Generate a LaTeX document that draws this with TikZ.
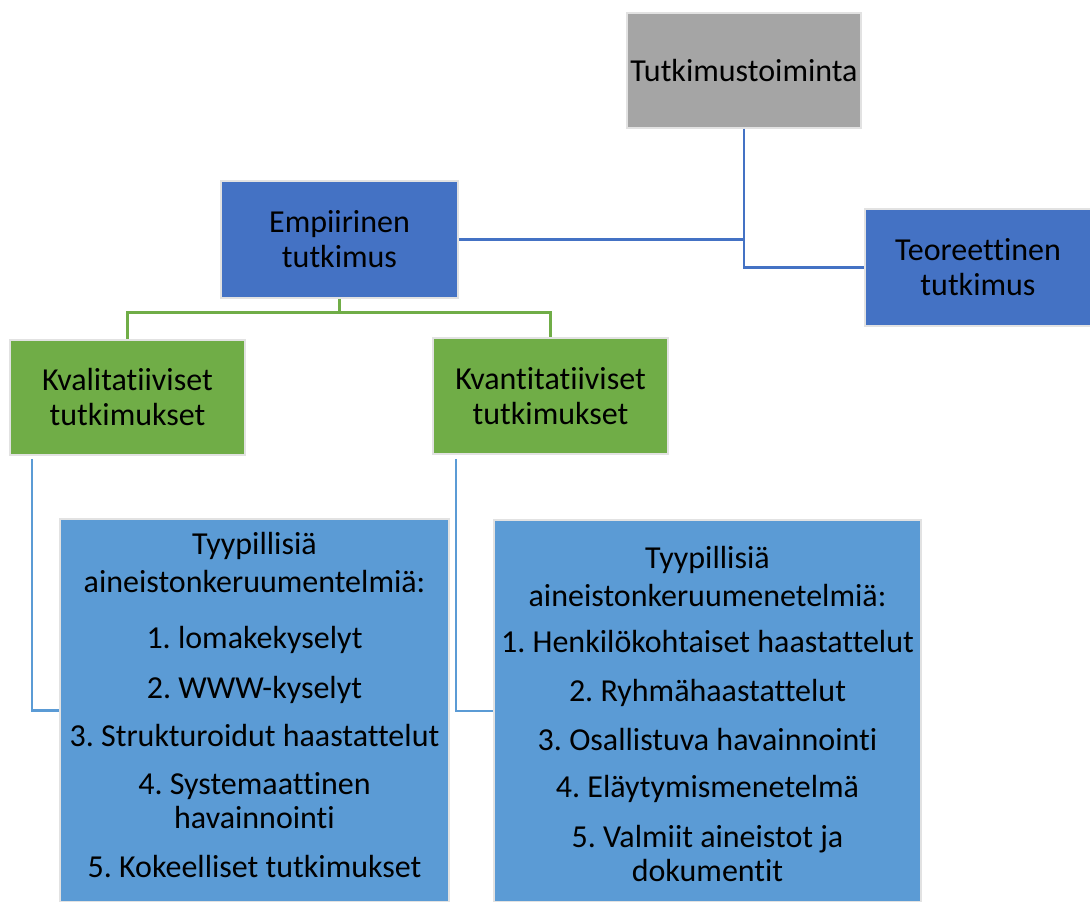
\documentclass[tikz,border=0pt]{standalone}
\usepackage{fontspec}
\setmainfont{Carlito}[Ligatures=NoCommon]
\frenchspacing
\definecolor{cgray}{HTML}{A5A5A5}
\definecolor{cblue}{HTML}{4472C4}
\definecolor{cgreen}{HTML}{70AD47}
\definecolor{clight}{HTML}{5B9BD5}
\definecolor{cedge}{HTML}{E2E2E2}
\begin{document}
\begin{tikzpicture}[x=1pt,y=1pt,
  box/.style={draw=cedge, line width=1.5pt, inner sep=0pt, align=center,
    font=\fontsize{32}{35}\selectfont},
  txt/.style={inner sep=0pt, align=center, font=\fontsize{32}{34}\selectfont\frenchspacing},
  blueline/.style={draw=cblue, line width=2.5pt},
  greenline/.style={draw=cgreen, line width=2.8pt},
  lightline/.style={draw=clight, line width=2.3pt}]
\useasboundingbox (0,0) rectangle (1090,-902);
\begin{scope}
\clip (0,0) rectangle (1090,-902);
\node[box, fill=cgray, minimum width=234, minimum height=115] (tut) at (744,-70.5) {Tutkimustoiminta};
\node[box, fill=cblue, minimum width=237, minimum height=117] (emp) at (339.5,-239.5) {Empiirinen\\tutkimus};
\node[box, fill=cblue, minimum width=226, minimum height=117] (teo) at (978,-267.5) {Teoreettinen\\tutkimus};
\node[box, fill=cgreen, minimum width=235, minimum height=115] (kval) at (127.5,-397.5) {Kvalitatiiviset\\tutkimukset};
\node[box, fill=cgreen, minimum width=235, minimum height=116] (kvan) at (550.5,-396) {Kvantitatiiviset\\tutkimukset};
\node[box, fill=clight, minimum width=389, minimum height=383] (lbox) at (254.5,-710.5) {};
\node[box, fill=clight, minimum width=427, minimum height=382] (rbox) at (707.5,-711) {};

\node[txt, anchor=north] (ltext) at (254.5,-532) {Tyypillisiä\\[4pt]aineistonkeruumentelmiä:\\[22pt]
1. lomakekyselyt\\[16pt]
2. WWW-kyselyt\\[14pt]
3. Strukturoidut haastattelut\\[14pt]
4. Systemaattinen\\havainnointi\\[15pt]
5. Kokeelliset tutkimukset};
\node[txt, anchor=north] (rtext) at (707.5,-546) {Tyypillisiä\\[4pt]aineistonkeruumenetelmiä:\\[12pt]
1. Henkilökohtaiset haastattelut\\[15pt]
2. Ryhmähaastattelut\\[15pt]
3. Osallistuva havainnointi\\[13pt]
4. Eläytymismenetelmä\\[16pt]
5. Valmiit aineistot ja\\dokumentit};

\draw[blueline] (tut.south) |- (emp.east);
\draw[blueline] (tut.south) |- (teo.west);
\draw[greenline] (emp.south) -- ++(0,-14) coordinate (gj) -| (kval.north);
\draw[greenline] (gj) -| (kvan.north);
\draw[lightline] ([xshift=23pt,yshift=-3pt]kval.south west) |- (lbox.west);
\draw[lightline] ([xshift=24pt,yshift=-4pt]kvan.south west) |- (rbox.west);
\end{scope}
\end{tikzpicture}
\end{document}
